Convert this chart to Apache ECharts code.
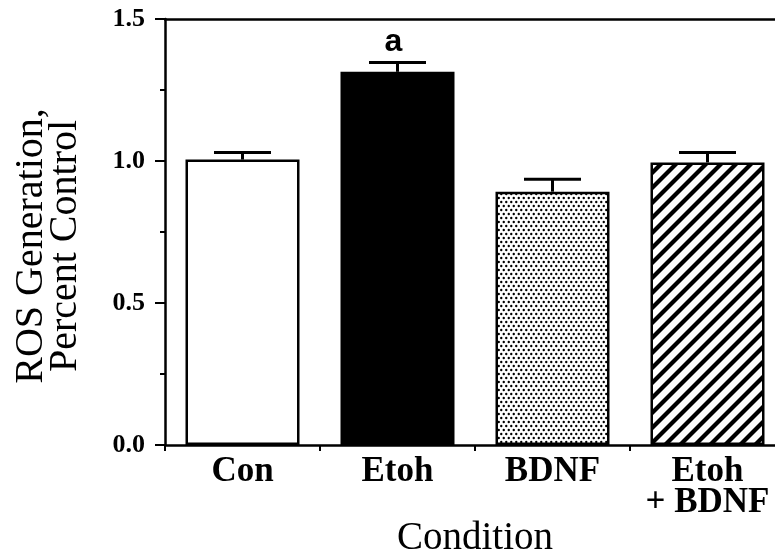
<!DOCTYPE html>
<html>
<head>
<meta charset="utf-8">
<script src="https://cdn.jsdelivr.net/npm/echarts@6/dist/echarts.min.js"></script>
<style>
html,body{margin:0;padding:0;background:#fff;}
#chart{width:775px;height:550px;}
</style>
</head>
<body>
<div id="chart"></div>
<script>
// ---- data ----
const categories = ['Con', 'Etoh', 'BDNF', 'Etoh\n+ BDNF'];
const meanValues = [1.005, 1.314, 0.892, 0.995];
const semValues = [0.025, 0.033, 0.044, 0.035];
const sigLabels = ['', 'a', '', ''];
const yMin = 0, yMax = 1.5, yStep = 0.5;

// ---- fill patterns ----
function makeDots() {
  const c = document.createElement('canvas');
  c.width = 10; c.height = 8;
  const g = c.getContext('2d');
  g.fillStyle = '#fff'; g.fillRect(0, 0, 10, 8);
  g.fillStyle = '#000';
  [[1.25, 2], [6.25, 2], [3.75, 6], [8.75, 6]].forEach(function (p) {
    g.beginPath(); g.arc(p[0], p[1], 1.2, 0, Math.PI * 2); g.fill();
  });
  return c;
}
function makeStripes() {
  const s = 15;
  const c = document.createElement('canvas');
  c.width = s; c.height = s;
  const g = c.getContext('2d');
  g.fillStyle = '#fff'; g.fillRect(0, 0, s, s);
  g.strokeStyle = '#000'; g.lineWidth = 4.2;
  [[-s, s, s, -s], [0, s, s, 0], [0, 2 * s, 2 * s, 0]].forEach(function (l) {
    g.beginPath(); g.moveTo(l[0], l[1]); g.lineTo(l[2], l[3]); g.stroke();
  });
  return c;
}
const fills = ['#ffffff', '#000000',
  { image: makeDots(), repeat: 'repeat' },
  { image: makeStripes(), repeat: 'repeat' }];

const chart = echarts.init(document.getElementById('chart'), null, { renderer: 'canvas' });
const serif = 'Liberation Serif';

chart.setOption({
  animation: false,
  backgroundColor: '#fff',
  grid: { left: 165, top: 19, width: 620, height: 426, containLabel: false, outerBoundsMode: 'none' },
  xAxis: [{
    type: 'category',
    data: categories,
    position: 'bottom',
    boundaryGap: true,
    axisLine: { show: true, lineStyle: { color: '#000', width: 2.5 } },
    axisTick: { show: true, interval: 0, length: 6, lineStyle: { color: '#000', width: 2 } },
    axisLabel: { interval: 0, margin: 11, color: '#000', fontFamily: serif, fontWeight: 'bold', fontSize: 35, lineHeight: 31 },
    name: 'Condition',
    nameLocation: 'middle',
    nameGap: 74,
    nameMoveOverlap: false,
    nameTextStyle: { fontFamily: serif, fontSize: 39, color: '#000' },
    splitLine: { show: false }
  }, {
    type: 'category',
    data: categories,
    position: 'top',
    axisLine: { show: true, lineStyle: { color: '#000', width: 2.5 } },
    axisTick: { show: false },
    axisLabel: { show: false },
    splitLine: { show: false }
  }],
  yAxis: {
    type: 'value',
    min: yMin, max: yMax, interval: yStep,
    axisLine: { show: true, lineStyle: { color: '#000', width: 2.5 } },
    axisTick: { show: true, length: 10, lineStyle: { color: '#000', width: 2 } },
    minorTick: { show: true, splitNumber: 2, length: 5, lineStyle: { color: '#000', width: 2 } },
    splitLine: { show: false },
    minorSplitLine: { show: false },
    axisLabel: {
      margin: 20, color: '#000', fontFamily: serif, fontWeight: 'bold', fontSize: 26,
      formatter: function (v) { return v.toFixed(1); }
    }
  },
  graphic: [{
    type: 'text',
    x: 48, y: 246,
    rotation: Math.PI / 2,
    style: {
      text: 'ROS Generation,\nPercent Control',
      font: '40px "Liberation Serif"',
      lineHeight: 34,
      fill: '#000',
      align: 'center',
      verticalAlign: 'middle',
      textAlign: 'center',
      textVerticalAlign: 'middle'
    }
  }],
  series: [{
    type: 'bar',
    xAxisIndex: 0,
    barWidth: 114,
    data: meanValues.map(function (v, i) {
      return { value: v, itemStyle: { color: fills[i], borderColor: '#000', borderWidth: 2.5 } };
    }),
    z: 2
  }, {
    type: 'custom',
    xAxisIndex: 0,
    encode: { x: 0, y: [1, 2] },
    data: meanValues.map(function (v, i) { return [i, v, v + semValues[i]]; }),
    z: 3,
    renderItem: function (params, api) {
      const i = api.value(0);
      const base = api.coord([i, api.value(1)]);
      const top = api.coord([i, api.value(2)]);
      const half = 28.5;
      const children = [
        { type: 'line', shape: { x1: base[0], y1: base[1], x2: top[0], y2: top[1] }, style: { stroke: '#000', lineWidth: 3 } },
        { type: 'line', shape: { x1: top[0] - half, y1: top[1], x2: top[0] + half, y2: top[1] }, style: { stroke: '#000', lineWidth: 3 } }
      ];
      const sig = sigLabels[params.dataIndex];
      if (sig) {
        children.push({
          type: 'text', x: top[0] - 4, y: top[1] - 20,
          style: { text: sig, font: 'bold 32px "Liberation Sans"', fill: '#000',
            align: 'center', verticalAlign: 'middle', textAlign: 'center', textVerticalAlign: 'middle' }
        });
      }
      return { type: 'group', children: children };
    }
  }]
});
</script>
</body>
</html>
